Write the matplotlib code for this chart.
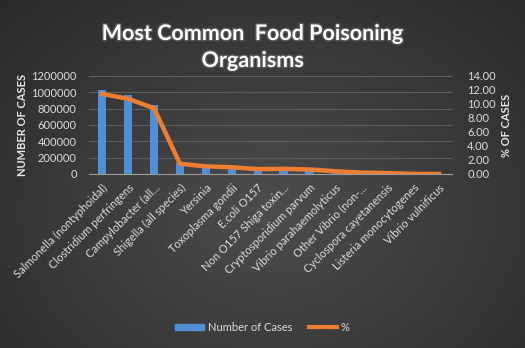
import numpy as np
import matplotlib.pyplot as plt
from matplotlib.lines import Line2D
from matplotlib.patches import Patch
from matplotlib.ticker import FuncFormatter
import matplotlib.patheffects as pe

plt.rcParams['font.family'] = ['Lato', 'DejaVu Sans']

organisms = ['Salmonella (nontyphoidal)', 'Clostridium perfringens', 'Campylobacter (all...',
             'Shigella (all species)', 'Yersinia', 'Toxoplasma gondii', 'E.coli O157',
             'Non O157 Shiga toxin...', 'Cryptosporidium parvum', 'Vibrio parahaemolyticus',
             'Other Vibrio (non-...', 'Cyclospora cayetanensis', 'Listeria monocytogenes',
             'Vibrio vulnificus']
cases = [1027561, 965958, 845024, 131254, 97656, 86686, 63153, 67000, 57616,
         34664, 17564, 11407, 1591, 96]
pct = [11.42, 10.73, 9.39, 1.46, 1.09, 0.96, 0.70, 0.74, 0.64, 0.39, 0.20, 0.13, 0.02, 0.00]

fig = plt.figure(figsize=(5.25, 3.48), dpi=100)

# dark radial background
bg = fig.add_axes([0, 0, 1, 1], zorder=-10)
yy, xx = np.mgrid[0:348, 0:525]
r = np.sqrt(((xx - 270) / 330.0) ** 2 + ((yy - 210) / 260.0) ** 2)
shade = np.clip(0.30 - 0.12 * r, 0.16, 0.31)
bg.imshow(np.dstack([shade] * 3), aspect='auto', extent=[0, 1, 0, 1])
bg.axis('off')

ax = fig.add_axes([0.170, 0.500, 0.691, 0.282])
ax.set_facecolor('none')
x = np.arange(len(organisms))
ax.bar(x, cases, width=0.32, color='#4f8fd8', zorder=2)
ax.set_ylim(0, 1200000)
ax.set_yticks(range(0, 1200001, 200000))
ax.yaxis.set_major_formatter(FuncFormatter(lambda v, p: '%d' % v))
ax.set_xlim(-0.5, len(organisms) - 0.5)
ax.grid(axis='y', color='#5c5c5c', linewidth=0.8, zorder=0)
for s in ['top', 'right', 'left']:
    ax.spines[s].set_visible(False)
ax.spines['bottom'].set_color('#9a9a9a')
ax.tick_params(axis='both', length=0, colors='#dcdcdc', labelsize=8)
ax.tick_params(axis='y', pad=9)
ax.tick_params(axis='x', pad=6)
ax.set_xticks(x)
ax.set_xticklabels(organisms, rotation=45, ha='right', rotation_mode='anchor')
ax.set_ylabel('NUMBER OF CASES', color='#e6e6e6', fontsize=8, fontweight='bold', labelpad=2)

ax2 = ax.twinx()
ax2.plot(x, pct, color='#ed7d31', linewidth=3.2, solid_joinstyle='round', zorder=3)
ax2.set_ylim(0, 14)
ax2.set_yticks(range(0, 15, 2))
ax2.set_yticklabels(['%.2f' % v for v in range(0, 15, 2)])
for s in ax2.spines.values():
    s.set_visible(False)
ax2.tick_params(axis='y', length=0, colors='#dcdcdc', labelsize=8, pad=11)
ax2.set_ylabel('% OF CASES', color='#e6e6e6', fontsize=8, fontweight='bold', labelpad=4)

fig.text(0.481, 0.865, 'Most Common  Food Poisoning\nOrganisms', ha='center', va='center',
         color='white', fontsize=15.5, fontweight='bold', linespacing=1.35,
         path_effects=[pe.withStroke(linewidth=2, foreground='#555555')])

handles = [Patch(color='#4f8fd8'), Line2D([], [], color='#ed7d31', linewidth=3)]
fig.legend(handles, ['Number of Cases', '%'], loc='center', bbox_to_anchor=(0.5, 0.06),
           ncol=2, frameon=False, fontsize=8, labelcolor='#dcdcdc',
           handlelength=2.6, handleheight=0.5, columnspacing=1.5, handletextpad=0.3)

fig.savefig('out.png', dpi=100)
